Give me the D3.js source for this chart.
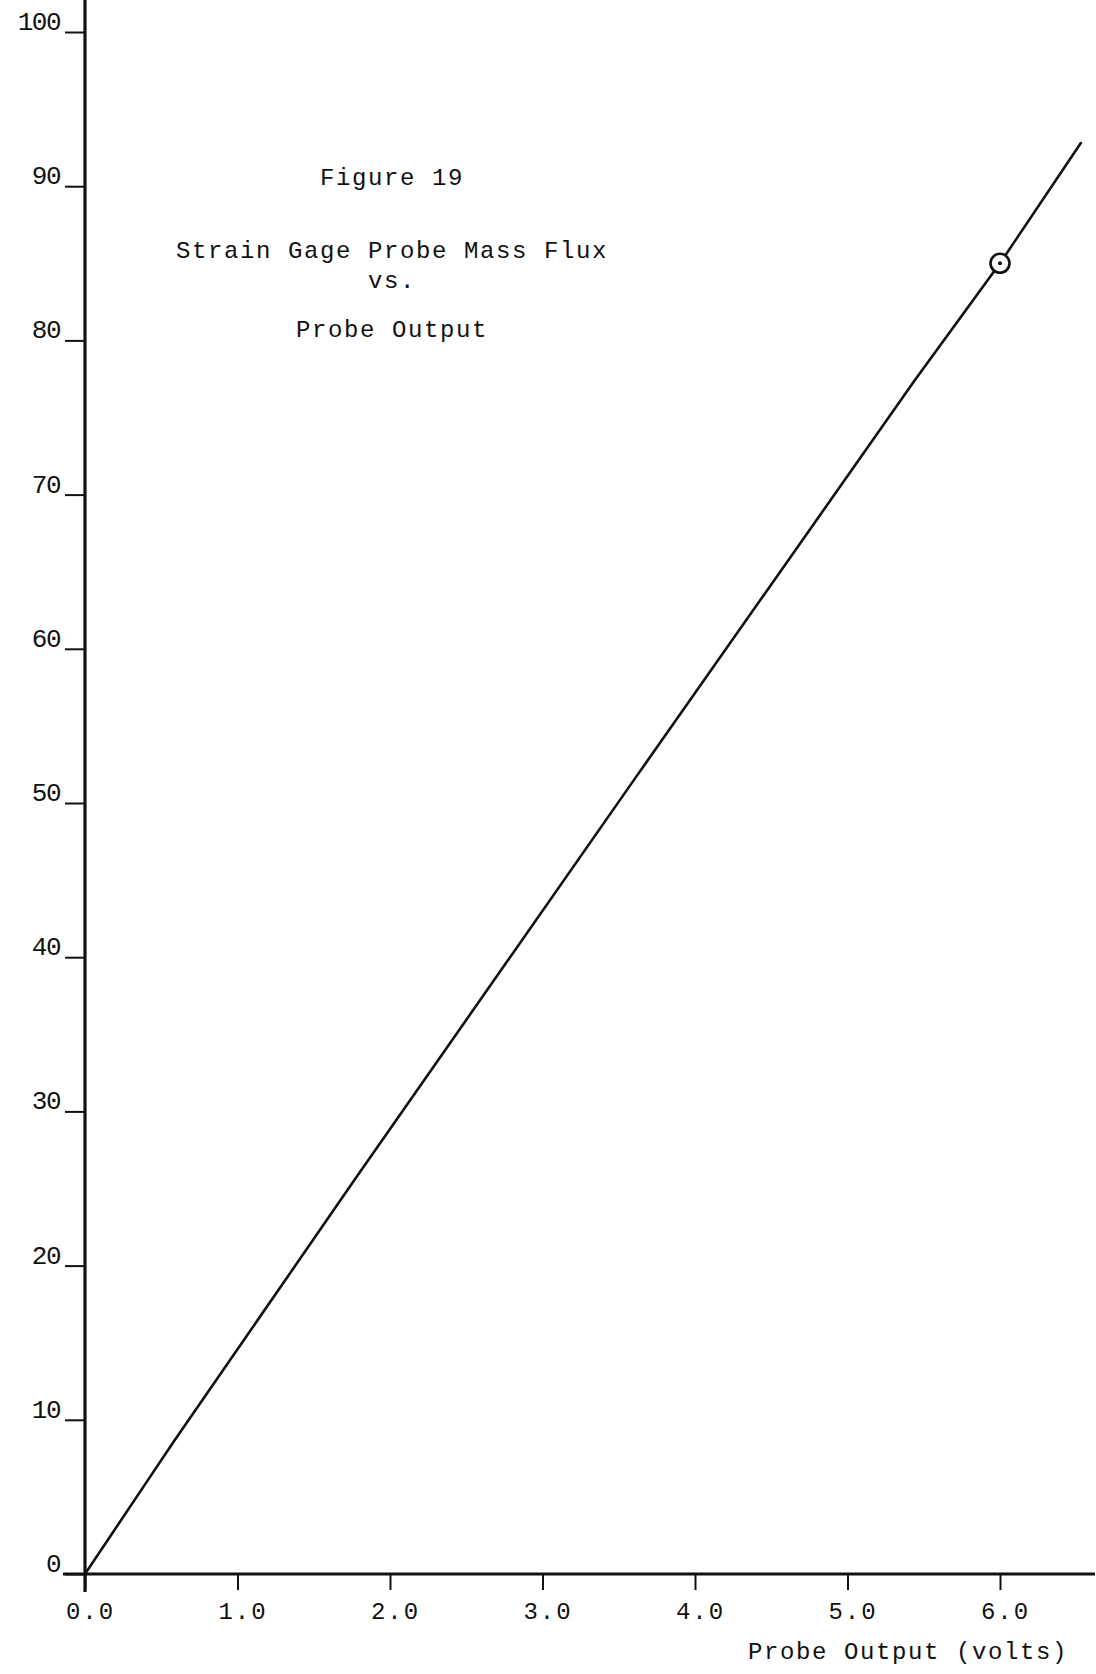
<!DOCTYPE html>
<html>
<head>
<meta charset="utf-8">
<script src="https://cdn.jsdelivr.net/npm/d3@7"></script>
<style>
  html, body { margin: 0; padding: 0; background: #fff; }
  svg { display: block; }
  text { font-family: "Liberation Mono", "Courier New", monospace; fill: #111; }
</style>
</head>
<body>
<svg id="chart" width="1096" height="1674"></svg>
<script>
// Calibration curve: probe output (volts) vs. mass flux
const probeVolts = [0, 0.42, 0.59, 1.77, 3.6, 5.44, 6.0, 6.53];
const massFlux   = [0, 6.2, 8.7, 25.6, 51.5, 77.4, 85.0, 92.8];

// Measured calibration point (circled)
const pointVolts = [6.0];
const pointFlux  = [85.0];

// Axis ticks
const xTicks = [0, 1, 2, 3, 4, 5, 6];
const xTickLabels = ["0.0", "1.0", "2.0", "3.0", "4.0", "5.0", "6.0"];
const yTicks = [0, 10, 20, 30, 40, 50, 60, 70, 80, 90, 100];
const yTickLabels = ["0", "10", "20", "30", "40", "50", "60", "70", "80", "90", "100"];

const titleLines = ["Figure 19", "Strain Gage Probe Mass Flux", "vs.", "Probe Output"];
const xAxisTitle = "Probe Output (volts)";

const svg = d3.select("#chart");
const ink = "#111";

const x = d3.scaleLinear().domain([0, 6]).range([85, 1000]);
const y = d3.scaleLinear().domain([0, 100]).range([1574, 32]);

// Axes lines
svg.append("line")
  .attr("x1", x(0)).attr("x2", x(0))
  .attr("y1", 0).attr("y2", y(0) + 18)
  .attr("stroke", ink).attr("stroke-width", 3.2);
svg.append("line")
  .attr("x1", x(0) - 22).attr("x2", 1095)
  .attr("y1", y(0)).attr("y2", y(0))
  .attr("stroke", ink).attr("stroke-width", 3);

// Y axis ticks (left stubs) and labels
const yAxis = d3.axisLeft(y)
  .tickValues(yTicks)
  .tickSize(20)
  .tickFormat((d, i) => yTickLabels[i]);
const gy = svg.append("g").attr("transform", `translate(${x(0)},0)`).call(yAxis);
gy.select(".domain").remove();
gy.selectAll(".tick line").attr("stroke", ink).attr("stroke-width", 2);
gy.selectAll(".tick text")
  .attr("x", -25).attr("dy", "-0.1em")
  .style("font-size", "26px")
  .style("letter-spacing", "-1.5px");

// X axis ticks (down stubs) and labels
const xAxis = d3.axisBottom(x)
  .tickValues(xTicks)
  .tickSize(16)
  .tickFormat((d, i) => xTickLabels[i]);
const gx = svg.append("g").attr("transform", `translate(0,${y(0)})`).call(xAxis);
gx.select(".domain").remove();
gx.selectAll(".tick line").attr("stroke", ink).attr("stroke-width", 2);
gx.selectAll(".tick text")
  .attr("y", 28).attr("dy", "0.71em")
  .attr("dx", "5")
  .style("font-size", "24px")
  .style("letter-spacing", "2px");

// Calibration line
const line = d3.line()
  .x((d, i) => x(probeVolts[i]))
  .y((d, i) => y(massFlux[i]));
svg.append("path")
  .datum(probeVolts)
  .attr("d", line)
  .attr("fill", "none")
  .attr("stroke", ink)
  .attr("stroke-width", 2.6)
  .attr("stroke-linecap", "round");

// Circled data point with center dot
const pts = svg.append("g").selectAll("g")
  .data(pointVolts)
  .join("g")
  .attr("transform", (d, i) => `translate(${x(d)},${y(pointFlux[i])})`);
pts.append("circle").attr("r", 9.5)
  .attr("fill", "#fff").attr("stroke", ink).attr("stroke-width", 2.6);
pts.append("circle").attr("r", 2).attr("fill", ink);

// Title block
const titleY = [185, 258, 288, 337];
svg.append("g").selectAll("text")
  .data(titleLines)
  .join("text")
  .attr("x", 392)
  .attr("y", (d, i) => titleY[i])
  .attr("text-anchor", "middle")
  .style("font-size", "24px")
  .style("letter-spacing", "1.6px")
  .text(d => d);

// X axis title
svg.append("text")
  .attr("x", 1068).attr("y", 1659)
  .attr("text-anchor", "end")
  .style("font-size", "24px")
  .style("letter-spacing", "1.6px")
  .text(xAxisTitle);
</script>
</body>
</html>
